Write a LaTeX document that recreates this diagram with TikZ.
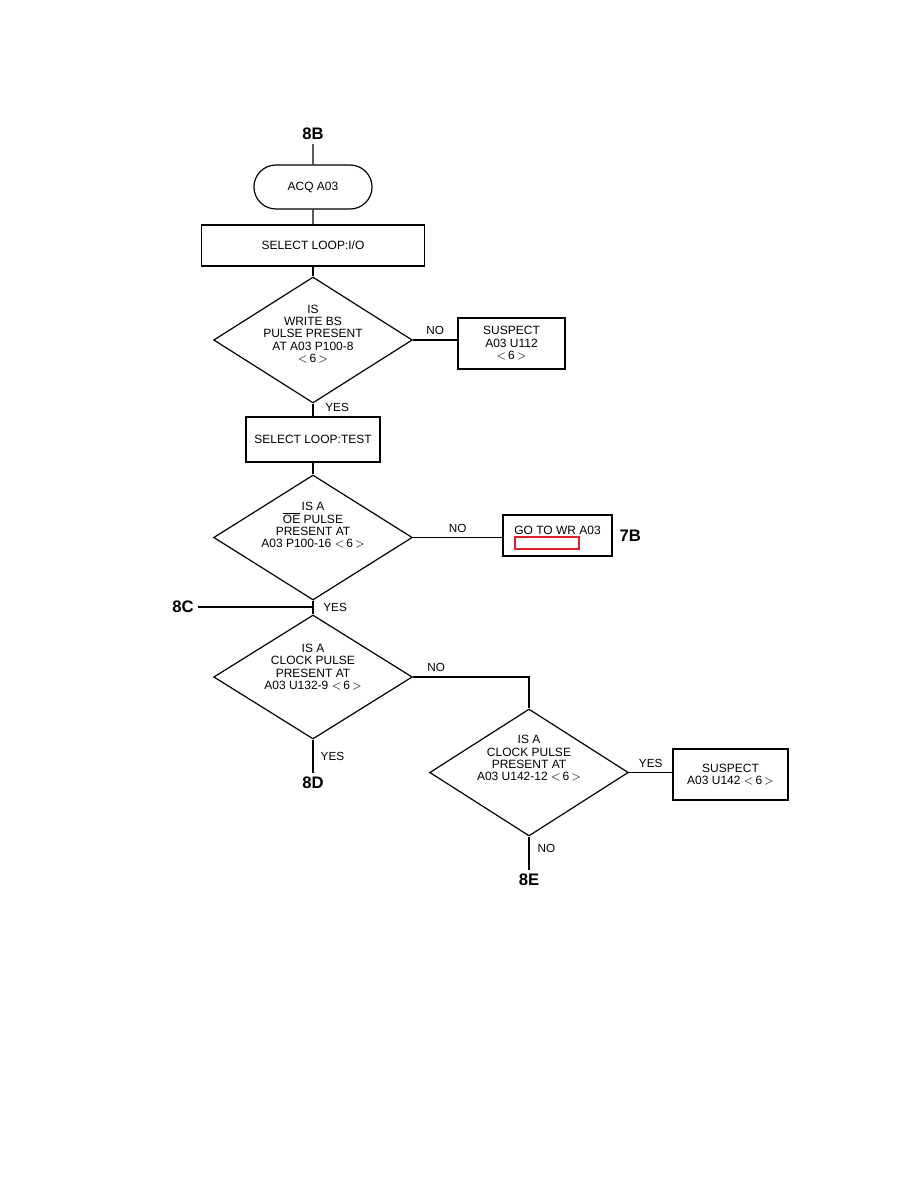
\documentclass[tikz,border=0pt]{standalone}
\usepackage{fontspec}
\setmainfont{Liberation Sans}
\usetikzlibrary{positioning, shapes.geometric, shapes.misc}
\definecolor{markred}{RGB}{222,32,44}
\newcommand{\pinref}[1]{$<$\,#1\,$>$}
\tikzset{
  box/.style={rectangle, draw=black, line width=0.9pt, align=center,
              inner sep=2pt, font=\fontsize{9}{9.3}\selectfont},
  termbox/.style={rounded rectangle, draw=black, line width=0.9pt,
                  minimum width=95.25pt, minimum height=33pt,
                  font=\fontsize{9}{9.3}\selectfont},
  decbox/.style={diamond, draw=black, line width=0.9pt, inner sep=0pt,
                 minimum width=149pt, minimum height=94pt},
  dtext/.style={align=center, inner sep=0pt, font=\fontsize{9}{9.3}\selectfont},
  flab/.style={font=\fontsize{12.5}{14}\selectfont\bfseries, inner sep=3pt},
  lbl/.style={font=\fontsize{8.8}{9}\selectfont},
  redbox/.style={rectangle, draw=markred, line width=1pt,
                 minimum width=48pt, minimum height=9pt, inner sep=0pt},
  ln/.style={line width=0.9pt},
}
\begin{document}
\begin{tikzpicture}[x=0.75pt, y=-0.75pt]
  \useasboundingbox (0,0) rectangle (918,1188);
  % entry and setup
  \node[flab] (l8B) at (313,134) {8B};
  \node[termbox] (acq) at (313,187) {ACQ A03};
  \node[box, minimum width=167.25pt, minimum height=30.75pt] (sel1)
       at (313,245.5) {SELECT LOOP:I/O};
  % write bs test
  \node[decbox, minimum height=94.5pt] (d1) at (313,340) {};
  \node[dtext, yshift=4.5pt] (d1t) at (d1)
       {IS\\WRITE BS\\PULSE PRESENT\\AT A03 P100-8\\\pinref{6}};
  \node[box, minimum width=80.25pt, minimum height=38.25pt] (sus1)
       at (511.5,343.5) {SUSPECT\\A03 U112\\\pinref{6}};
  \node[box, minimum width=100.5pt, minimum height=33.75pt] (sel2)
       at (313,439.5) {SELECT LOOP:TEST};
  % oe test
  \node[decbox, minimum height=93.75pt] (d2) at (313,537.5) {};
  \node[dtext, yshift=9pt] (d2t) at (d2)
       {IS A\\\smash{$\overline{\mbox{OE}}$} PULSE\\PRESENT AT\\A03 P100-16 \pinref{6}};
  \node[box, minimum width=81.75pt, minimum height=30.75pt,
        text height=6.5pt, text depth=8pt] (goto)
       at (557.5,535.5) {GO TO WR A03};
  \node[redbox] (mark) at (547,543) {};
  \node[flab, right=2pt of goto] (l7B) {7B};
  \node[flab] (l8C) at (183,607) {8C};
  \coordinate (j8C) at (313,607);
  % clock tests
  \node[decbox, minimum height=93pt] (d3) at (313,677) {};
  \node[dtext, yshift=7.5pt] (d3t) at (d3)
       {IS A\\CLOCK PULSE\\PRESENT AT\\A03 U132-9 \pinref{6}};
  \node[flab] (l8D) at (313,783) {8D};
  \node[decbox, minimum height=95.25pt] (d4) at (529,772.5) {};
  \node[dtext, yshift=10.5pt] (d4t) at (d4)
       {IS A\\CLOCK PULSE\\PRESENT AT\\A03 U142-12 \pinref{6}};
  \node[box, minimum width=86.25pt, minimum height=38.25pt] (sus2)
       at (730.5,774.5) {SUSPECT\\A03 U142 \pinref{6}};
  \node[flab] (l8E) at (529,880) {8E};
  % connectors
  \draw[ln] (l8B) -- (acq);
  \draw[ln] (acq) -- (sel1);
  \draw[ln] (sel1) -- (d1);
  \draw[ln] (d1.east) -- node[lbl, above]{NO} (d1.east -| sus1.west);
  \draw[ln] (d1) -- node[lbl, right, pos=0.3, xshift=5.5pt]{YES} (sel2);
  \draw[ln] (sel2) -- (d2);
  \draw[ln] (d2.east) -- node[lbl, above]{NO} (d2.east -| goto.west);
  \draw[ln] (l8C) -- (j8C);
  \draw[ln] (d2) -- node[lbl, right, xshift=4pt]{YES} (d3);
  \draw[ln] (d3.east) -| node[lbl, above, pos=0.1]{NO} (d4.north);
  \draw[ln] (d3) -- node[lbl, right, xshift=2pt]{YES} (l8D);
  \draw[ln] (d4.east) -- node[lbl, above]{YES} (d4.east -| sus2.west);
  \draw[ln] (d4) -- node[lbl, right, pos=0.36, xshift=2.7pt]{NO} (l8E);
\end{tikzpicture}
\end{document}
